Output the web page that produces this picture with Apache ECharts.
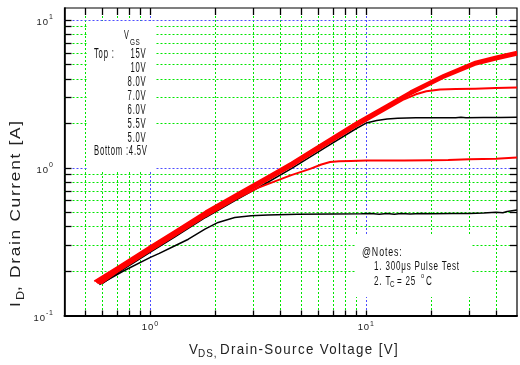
<!DOCTYPE html>
<html><head><meta charset="utf-8">
<script src="https://cdn.jsdelivr.net/npm/echarts@6/dist/echarts.min.js"></script>
<style>html,body{margin:0;padding:0;background:#fff}#c{width:520px;height:365px}</style>
</head><body><div id="c"></div>
<script>
// ---------- data ----------
const X_MIN = 0.4, X_MAX = 50, Y_MIN = 0.1, Y_MAX = 12;
const xGridTicks = [0.5,0.6,0.7,0.8,0.9,1,2,3,4,5,6,7,8,9,10,20,30,40];
const yGridTicks = [0.2,0.3,0.4,0.5,0.6,0.7,0.8,0.9,1,2,3,4,5,6,7,8,9,10];

const vgs15 = [[0.55,0.17],[0.7,0.212],[1.0,0.295],[1.3,0.374],[1.8,0.505],[2.5,0.665],[3.5,0.875],[4.5,1.08],[6.4,1.49],[9,2.02],[12.5,2.66],[16,3.27],[22.7,4.22],[32,5.2],[40,5.65],[50,6.08]];
const vgs10 = [[0.56,0.168],[0.7,0.209],[1.0,0.29],[1.3,0.368],[1.8,0.497],[2.5,0.654],[3.5,0.861],[4.5,1.063],[6.4,1.466],[9,1.988],[12.5,2.617],[16,3.218],[22.7,4.153],[32,5.117],[40,5.56],[50,5.98]];
const vgs8 = [[0.565,0.166],[0.7,0.205],[1.0,0.286],[1.3,0.362],[1.8,0.489],[2.5,0.644],[3.5,0.848],[4.5,1.047],[6.4,1.444],[9,1.957],[12.5,2.578],[16,3.169],[22.7,4.089],[32,5.039],[40,5.475],[50,5.89]];
const vgs7 = [[0.57,0.165],[0.7,0.202],[1.0,0.281],[1.3,0.357],[1.8,0.482],[2.5,0.634],[3.5,0.835],[4.5,1.03],[6.4,1.421],[9,1.927],[12.5,2.538],[16,3.12],[22.7,4.026],[32,4.96],[40,5.39],[50,5.8]];
const vgs6 = [[0.58,0.164],[0.7,0.199],[1.0,0.277],[1.3,0.351],[1.8,0.474],[2.5,0.624],[3.5,0.822],[4.5,1.014],[6.4,1.399],[9,1.897],[12.5,2.498],[15,2.9],[17,3.13],[19,3.28],[22,3.37],[26,3.4],[32,3.42],[40,3.45],[50,3.48]];
const vgs55 = [[0.6,0.165],[0.7,0.193],[1.0,0.268],[1.3,0.34],[1.8,0.46],[2.5,0.605],[3.5,0.796],[4.5,0.983],[6.4,1.356],[9,1.838],[10,2.0],[11.2,2.08],[12.5,2.13],[14,2.16],[17,2.17],[22,2.17],[26,2.175],[27.5,2.19],[29,2.175],[35,2.18],[42,2.185],[50,2.19]];
const vgs5 = [[0.59,0.164],[0.7,0.196],[1.0,0.273],[1.3,0.346],[1.8,0.467],[2.5,0.615],[3.15,0.73],[3.8,0.81],[4.5,0.89],[5.5,0.98],[6.2,1.05],[6.8,1.09],[7.5,1.105],[8.5,1.11],[10,1.115],[15,1.115],[20,1.12],[24,1.125],[30,1.14],[40,1.15],[50,1.17]];
const vgs45 = [[0.58,0.162],[0.75,0.2],[1.0,0.247],[1.1,0.263],[1.3,0.296],[1.5,0.328],[1.79,0.384],[2.06,0.426],[2.46,0.46],[2.93,0.473],[3.5,0.479],[4.8,0.484],[7,0.486],[9.5,0.487],[10.5,0.49],[11.5,0.484],[12.5,0.489],[13.5,0.484],[14.5,0.49],[16,0.486],[18,0.489],[20,0.487],[25,0.489],[30,0.49],[35,0.493],[40,0.499],[43,0.495],[45,0.505],[50,0.516]];

const curveNames = ['Bottom 4.5V','5.5V','5.0V','6.0V','7.0V','8.0V','10V','15V'];
const curveData = [vgs45, vgs55, vgs5, vgs6, vgs7, vgs8, vgs10, vgs15];
const curveColors = ['#000000','#000000','#ff0000','#ff0000','#ff0000','#ff0000','#ff0000','#ff0000'];

const legendValues = ['15V','10V','8.0V','7.0V','6.0V','5.5V','5.0V'];
const xTitleParts = ['V', 'DS,', 'Drain-Source Voltage [V]'];
const yTitleParts = ['I', 'D', ', Drain Current [A]'];
const notesLines = ['@Notes:', '1. 300μs Pulse Test'];

// ---------- letter spacing for all canvas text ----------
const LS_RATIO = 0.1;
(function(){
  const P = CanvasRenderingContext2D.prototype;
  const setLS = (ctx) => { const m = /([\d.]+)px/.exec(ctx.font || ''); try { ctx.letterSpacing = (m ? (parseFloat(m[1]) * LS_RATIO).toFixed(2) : '1') + 'px'; } catch(e){} };
  const f = P.fillText, mt = P.measureText;
  P.fillText = function(){ setLS(this); return f.apply(this, arguments); };
  P.measureText = function(){ setLS(this); return mt.apply(this, arguments); };
})();

const FONT = '"Liberation Sans", Arial, sans-serif';
const GREEN = '#00e600', BLUE = '#4d4dff';
const isDecade = v => Math.abs(Math.log10(v) - Math.round(Math.log10(v))) < 1e-9;

function labelFmt(v){
  const e = Math.log10(v), r = Math.round(e);
  if (Math.abs(e - r) > 1e-6) return '';
  return '{b|10}{s|' + r + '}';
}

const chart = echarts.init(document.getElementById('c'), null, {renderer:'canvas'});

function T(text, x, y, size, opt){
  opt = opt || {};
  return { type:'text', x:x, y:y, z:10, silent:true,
    scaleX: opt.sx == null ? 1 : opt.sx, rotation: opt.rot || 0,
    style:{ text:text, fontSize:size, fontFamily:FONT, fill: opt.fill || '#111',
      align: opt.align || 'left', verticalAlign:'middle' } };
}

const graphics = [
  { type:'rect', z:2, silent:true, shape:{x:88, y:21, width:67, height:150}, style:{fill:'#fff'} },
  { type:'rect', z:2, silent:true, shape:{x:355, y:234, width:116, height:63}, style:{fill:'#fff'} },
  T('V', 124, 36, 12, {sx:0.6}),
  T('GS', 130, 42.5, 8.5, {sx:0.75}),
  T('Top :', 94, 54.3, 14, {sx:0.55}),
  T('Bottom :4.5V', 94, 54.3 + 7*13.9, 14, {sx:0.55}),
  T(xTitleParts[0], 189, 349.5, 15, {sx:0.89, fill:'#222'}),
  T(xTitleParts[1], 198, 354, 11, {sx:0.9, fill:'#222'}),
  T(xTitleParts[2], 220, 350, 15, {sx:0.89, fill:'#222'}),
  T(yTitleParts[0], 16.3, 307, 15, {sx:1.15, rot:Math.PI/2, fill:'#222'}),
  T(yTitleParts[1], 21, 300, 11, {sx:1.15, rot:Math.PI/2, fill:'#222'}),
  T(yTitleParts[2], 16.3, 291, 15, {sx:1.15, rot:Math.PI/2, fill:'#222'}),
  T(notesLines[0], 362, 252, 13, {sx:0.68}),
  T(notesLines[1], 374, 266, 13, {sx:0.62}),
  T('2. T', 374, 281, 13, {sx:0.62}),
  T('C', 390, 285, 9, {sx:0.7}),
  T('= 25', 397, 281, 13, {sx:0.62}),
  T('o', 421, 276, 8, {sx:0.7}),
  T('C', 426, 281, 13, {sx:0.62})
];
legendValues.forEach((t, i) => graphics.push(T(t, 146.5, 54.3 + i*13.9, 14, {sx:0.55, align:'right'})));

const series = [
  { type:'custom', z:1, silent:true, animation:false, clip:false,
    data: xGridTicks.map(v => [v, 1]),
    renderItem: function(params, api){
      const v = api.value(0), cs = params.coordSys;
      const px = Math.round(api.coord([v, 1])[0]) + 0.5;
      const top = cs.y, bot = cs.y + cs.height;
      return { type:'group', children:[
        { type:'line', shape:{x1:px, y1:top, x2:px, y2:bot}, style:{stroke: isDecade(v) ? BLUE : GREEN, lineWidth:1, lineDash:[2,2]} },
        { type:'line', shape:{x1:px, y1:bot, x2:px, y2:bot-5}, style:{stroke:'#000', lineWidth:1.3} },
        { type:'line', shape:{x1:px, y1:top, x2:px, y2:top+7}, style:{stroke:'#000', lineWidth:1.3} }
      ]};
    }
  },
  { type:'custom', z:1, silent:true, animation:false, clip:false,
    data: yGridTicks.map(v => [1, v]),
    renderItem: function(params, api){
      const v = api.value(1), cs = params.coordSys;
      const py = Math.round(api.coord([1, v])[1]) + 0.5;
      const l = cs.x, r = cs.x + cs.width;
      return { type:'group', children:[
        { type:'line', shape:{x1:l, y1:py, x2:r, y2:py}, style:{stroke: isDecade(v) ? BLUE : GREEN, lineWidth:1, lineDash:[2,2]} },
        { type:'line', shape:{x1:l, y1:py, x2:l+7, y2:py}, style:{stroke:'#000', lineWidth:1.3} },
        { type:'line', shape:{x1:r, y1:py, x2:r-7, y2:py}, style:{stroke:'#000', lineWidth:1.3} }
      ]};
    }
  }
];
curveData.forEach((d, i) => series.push({
  type:'line', name:curveNames[i], data:d, z:3, showSymbol:false, symbol:'none',
  smooth:false, animation:false, silent:true,
  lineStyle:{ color:curveColors[i], width: curveColors[i] === '#000000' ? 1.5 : 2, join:'round' }
}));

const richX = { b:{fontSize:9.5, fontFamily:FONT, color:'#222', padding:[3,0,0,0]},
                s:{fontSize:7, fontFamily:FONT, color:'#222', verticalAlign:'top', padding:[2,0,0,0]} };
const richY = { b:{fontSize:9.5, fontFamily:FONT, color:'#222', padding:[6,0,0,0]},
                s:{fontSize:7, fontFamily:FONT, color:'#222', verticalAlign:'top', padding:[2,0,0,0]} };

chart.setOption({
  backgroundColor:'#fff',
  animation:false,
  grid:{ left:64.5, top:8, width:456.5, height:307.5, show:true, borderColor:'#000', borderWidth:1.2, backgroundColor:'transparent' },
  xAxis:{ type:'log', logBase:10, min:X_MIN, max:X_MAX,
    axisLine:{show:true, lineStyle:{color:'#000', width:2}}, axisTick:{show:false}, splitLine:{show:false},
    axisLabel:{ margin:3, formatter:labelFmt, rich:richX } },
  yAxis:{ type:'log', logBase:10, min:Y_MIN, max:Y_MAX,
    axisLine:{show:true, lineStyle:{color:'#000', width:1.6}}, axisTick:{show:false}, splitLine:{show:false},
    axisLabel:{ margin:11, formatter:labelFmt, rich:richY } },
  graphic: graphics,
  series: series
});
</script></body></html>
